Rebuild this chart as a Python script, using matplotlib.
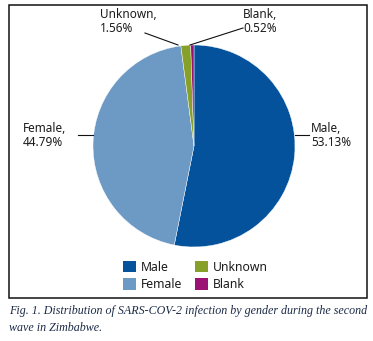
import matplotlib
matplotlib.use("Agg")
import matplotlib.pyplot as plt
from matplotlib.patches import Rectangle, Patch
from matplotlib.lines import Line2D

categories = ["Male", "Female", "Unknown", "Blank"]
values = [53.13, 44.79, 1.56, 0.52]
colors = ["#03529B", "#6D99C5", "#87A02A", "#9C1274"]
caption = ["Fig. 1. Distribution of SARS-COV-2 infection by gender during the second",
           "wave in Zimbabwe."]

W, H = 373, 341
fig = plt.figure(figsize=(W / 100, H / 100), dpi=100)
fig.patch.set_facecolor("white")

def fx(x):
    return x / W

def fy(y):
    return 1 - y / H

# frame
fig.add_artist(Rectangle((fx(9), fy(298)), fx(367) - fx(9), fy(5) - fy(298),
                         transform=fig.transFigure, fill=False, edgecolor="#111111",
                         linewidth=1.1))

cx, cy, r = 194, 146, 101
ax = fig.add_axes([fx(cx - r), fy(cy + r), 2 * r / W, 2 * r / H])
wedges, _ = ax.pie(values, colors=colors, startangle=90, counterclock=False,
                   wedgeprops=dict(linewidth=0.3, edgecolor="white"))
ax.set_aspect("equal")
ax.set_xlim(-1, 1)
ax.set_ylim(-1, 1)
ax.axis("off")

font = "Noto Sans"
tc = "#1c1c1c"
fs = 8.5

def line(x0, y0, x1, y1):
    fig.add_artist(Line2D([fx(x0), fx(x1)], [fy(y0), fy(y1)], transform=fig.transFigure,
                          color="#111111", linewidth=0.8))

labels = [f"{c},\n{v:.2f}%" for c, v in zip(categories, values)]
fig.text(fx(311), fy(136), labels[0], ha="left", va="center", fontsize=fs,
         family=font, color=tc, linespacing=1.1)
line(295, 135, 309, 135)
fig.text(fx(23), fy(136), labels[1], ha="left", va="center", fontsize=fs,
         family=font, color=tc, linespacing=1.1)
line(78, 135, 93, 135)
fig.text(fx(100), fy(22), labels[2], ha="left", va="center", fontsize=fs,
         family=font, color=tc, linespacing=1.1)
line(145, 33, 178, 45)
fig.text(fx(243), fy(22), labels[3], ha="left", va="center", fontsize=fs,
         family=font, color=tc, linespacing=1.1)
line(243, 28, 190, 45)

handles = [Patch(facecolor=c, edgecolor="none") for c in colors]
fig.legend(handles, categories, ncol=2, loc="center", bbox_to_anchor=(fx(195.5), fy(276)),
           frameon=False, prop=dict(family=font, size=8.8), handlelength=1.05,
           handleheight=1.05, handletextpad=0.45, columnspacing=1.0, labelspacing=0.35,
           labelcolor=tc)

fig.text(fx(9), fy(311), caption[0], ha="left", va="center", fontsize=8.65,
         family="Liberation Serif", style="italic", color="#1b2a48")
fig.text(fx(9), fy(328), caption[1], ha="left", va="center", fontsize=8.65,
         family="Liberation Serif", style="italic", color="#1b2a48")

fig.savefig("out.png", dpi=100)
